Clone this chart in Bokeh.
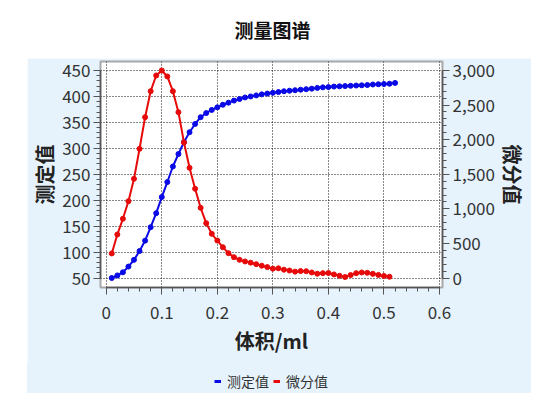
from bokeh.plotting import figure
from bokeh.models import (Range1d, LinearAxis, SingleIntervalTicker, NumeralTickFormatter,
                          Legend, LegendItem, Label)
from bokeh.layouts import column
from bokeh.embed import file_html
from bokeh.resources import INLINE

# ---------------- data ----------------
title_text = "测量图谱"
x_label = "体积/ml"
y_label_left = "测定值"
y_label_right = "微分值"
series_names = ["测定值", "微分值"]

volume_measured = [0.01, 0.02, 0.03, 0.04, 0.05, 0.06, 0.07, 0.08, 0.09, 0.10,
                   0.11, 0.12, 0.13, 0.14, 0.15, 0.16, 0.17, 0.18, 0.19, 0.20,
                   0.21, 0.22, 0.23, 0.24, 0.25, 0.26, 0.27, 0.28, 0.29, 0.30,
                   0.31, 0.32, 0.33, 0.34, 0.35, 0.36, 0.37, 0.38, 0.39, 0.40,
                   0.41, 0.42, 0.43, 0.44, 0.45, 0.46, 0.47, 0.48, 0.49, 0.50,
                   0.51, 0.52]
measured = [50, 55, 61, 72, 85, 102, 122, 148, 175, 206,
            235, 265, 289, 312, 331, 347, 360, 368, 374, 379,
            384, 388, 392, 395, 398, 400, 402, 404, 405.5, 407,
            408.5, 410, 411, 412, 413, 414, 415, 416.5, 417.5, 418,
            419, 419.5, 420, 420.5, 421, 421.5, 422, 423, 423.5, 424,
            424.5, 426]

volume_diff = [0.01, 0.02, 0.03, 0.04, 0.05, 0.06, 0.07, 0.08, 0.09, 0.10,
               0.11, 0.12, 0.13, 0.14, 0.15, 0.16, 0.17, 0.18, 0.19, 0.20,
               0.21, 0.22, 0.23, 0.24, 0.25, 0.26, 0.27, 0.28, 0.29, 0.30,
               0.31, 0.32, 0.33, 0.34, 0.35, 0.36, 0.37, 0.38, 0.39, 0.40,
               0.41, 0.42, 0.43, 0.44, 0.45, 0.46, 0.47, 0.48, 0.49, 0.50,
               0.51]
differential = [355, 629, 856, 1110, 1434, 1868, 2325, 2701, 2928, 3000,
                2914, 2701, 2398, 1960, 1593, 1290, 1015, 793, 639, 542,
                445, 359, 301, 263, 239, 222, 200, 178, 158, 135,
                140, 120, 108, 92, 100, 98, 80, 62, 70, 72,
                52, 32, 14, 42, 70, 80, 75, 60, 45, 30,
                18]

# ---------------- style ----------------
FONT = "Noto Sans CJK SC"
BG = "#e6f3fd"
BLUE = "#0a0ae6"
RED = "#e60a0a"
AX = "#555555"
TXT = "#333333"

W = 504
ML, MR = 73, 89
LEFT = 27

# title strip (white)
t = figure(width=W, height=58, toolbar_location=None, output_backend="svg",
           x_axis_location=None, y_axis_location=None,
           min_border_left=ML, min_border_right=MR, min_border_top=0, min_border_bottom=0)
t.margin = (0, 0, 0, LEFT)
t.outline_line_color = None
t.grid.visible = False
t.background_fill_color = "white"
t.border_fill_color = "white"
t.add_layout(Label(x=172, y=29, x_units="screen", y_units="screen", text=title_text,
                   text_align="center", text_baseline="middle", text_font=FONT,
                   text_font_size="19px", text_font_style="bold", text_color="#111111"))

# main chart
p = figure(width=W, height=304, toolbar_location=None, output_backend="svg",
           x_range=Range1d(-0.0103, 0.6054), y_range=Range1d(31.69, 467.35),
           min_border_left=ML, min_border_right=MR, min_border_top=3, min_border_bottom=75,
           background_fill_color="white", border_fill_color=BG,
           x_axis_location=None, y_axis_location=None)
p.margin = (0, 0, 0, LEFT)
p.outline_line_color = "#a8a8a8"
p.outline_line_width = 2
p.extra_y_ranges = {"diff": Range1d(-137.3, 3130.1)}

xaxis = LinearAxis(ticker=SingleIntervalTicker(interval=0.1, num_minor_ticks=5),
                   formatter=NumeralTickFormatter(format="0.[0]"), bounds=(0, 0.6001),
                   axis_label=x_label)
laxis = LinearAxis(ticker=SingleIntervalTicker(interval=50, num_minor_ticks=5),
                   bounds=(50, 450), axis_label=y_label_left)
raxis = LinearAxis(y_range_name="diff",
                   ticker=SingleIntervalTicker(interval=500, num_minor_ticks=5),
                   formatter=NumeralTickFormatter(format="0,0"), bounds=(0, 3000),
                   axis_label=y_label_right)
p.add_layout(xaxis, "below")
p.add_layout(laxis, "left")
p.add_layout(raxis, "right")

for ax in (xaxis, laxis, raxis):
    ax.axis_line_color = AX
    ax.axis_line_width = 1.5
    ax.major_tick_line_color = AX
    ax.minor_tick_line_color = AX
    ax.major_tick_out = 7
    ax.major_tick_in = 0
    ax.minor_tick_out = 4
    ax.minor_tick_in = 0
    ax.major_label_text_font = FONT
    ax.major_label_text_font_size = "17px"
    ax.major_label_text_color = TXT
    ax.axis_label_text_font = FONT
    ax.axis_label_text_font_size = "20px"
    ax.axis_label_text_font_style = "bold"
    ax.axis_label_text_color = "#222222"

xaxis.major_label_standoff = 11
xaxis.axis_label_standoff = 4
laxis.major_label_standoff = 3
laxis.axis_label_standoff = 0
raxis.major_label_standoff = 3
raxis.axis_label_standoff = 0

p.xgrid.ticker = xaxis.ticker
p.ygrid.ticker = laxis.ticker
for g in (p.xgrid, p.ygrid):
    g.grid_line_color = "#111111"
    g.grid_line_dash = "1 2"
    g.grid_line_width = 1

p.line(volume_measured, measured, line_color=BLUE, line_width=2)
p.scatter(volume_measured, measured, size=5, fill_color=BLUE, line_color=BLUE)
p.line(volume_diff, differential, line_color=RED, line_width=2, y_range_name="diff")
p.scatter(volume_diff, differential, size=5, fill_color=RED, line_color=RED, y_range_name="diff")

# legend strip (light blue), legend keys from hidden copies of the series
lf = figure(width=W, height=31, toolbar_location=None, output_backend="svg",
            x_axis_location=None, y_axis_location=None,
            min_border_left=ML, min_border_right=MR, min_border_top=0, min_border_bottom=0,
            styles={"background-color": BG})
lf.margin = (0, 0, 0, LEFT)
lf.outline_line_color = None
lf.grid.visible = False
lf.background_fill_color = BG
lf.border_fill_color = BG
kb = lf.line(volume_measured, measured, line_color=BLUE, line_width=3, visible=False)
kr = lf.line(volume_diff, differential, line_color=RED, line_width=3, visible=False)
legend = Legend(items=[LegendItem(label=series_names[0], renderers=[kb]),
                       LegendItem(label=series_names[1], renderers=[kr])],
                orientation="horizontal", location=(114, 2),
                background_fill_alpha=0, border_line_color=None,
                padding=0, margin=0, spacing=4, glyph_width=7, glyph_height=20,
                label_height=20, label_standoff=6,
                label_text_font=FONT, label_text_font_size="14px", label_text_color=TXT)
lf.add_layout(legend)

layout = column(t, p, lf, spacing=0)
open("out.html", "w").write(file_html(layout, INLINE))
